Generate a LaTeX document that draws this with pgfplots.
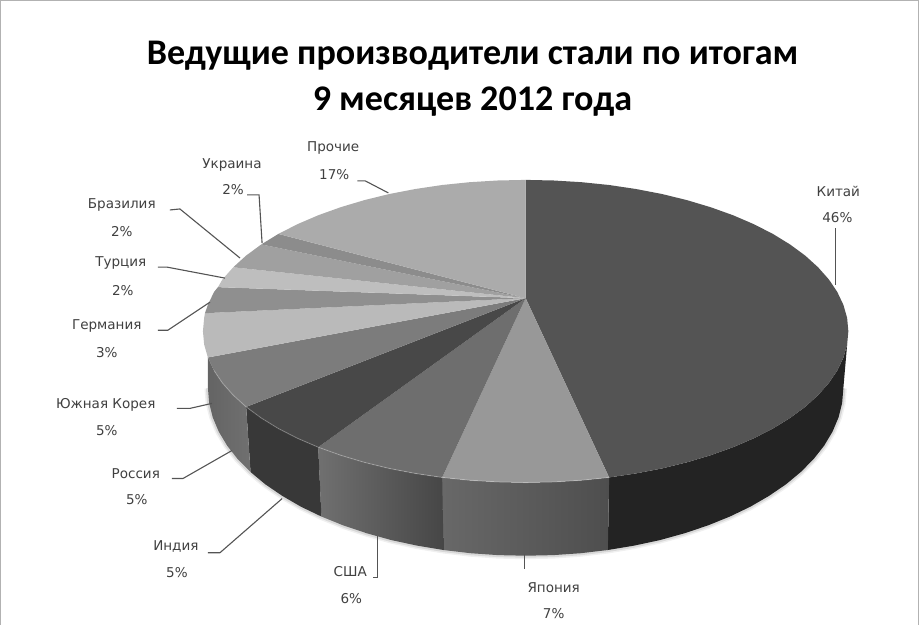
\documentclass[border=0pt]{standalone}
\usepackage{pgfplots}
\pgfplotsset{compat=1.18}
\usepackage{pgfplotstable}
\usepackage{fontspec}
\setmainfont{DejaVu Sans}
\newfontfamily\titlefont{Carlito}

% bottom rim of the pie, for the soft shadow
\pgfplotstableread{
x y
842 388
840.8 402.6
837.2 417
831.2 431.2
822.9 445.1
812.3 458.6
799.5 471.5
784.7 483.8
767.8 495.3
749.2 506.1
728.8 515.9
706.8 524.8
683.5 532.6
659 539.4
633.4 544.9
607 549.3
580 552.5
552.6 554.4
525 555
497.4 554.4
470 552.5
443 549.3
416.6 544.9
391 539.4
366.5 532.6
343.2 524.8
321.2 515.9
300.8 506.1
282.2 495.3
265.3 483.8
250.5 471.5
237.7 458.6
227.1 445.1
218.8 431.2
212.8 417
209.2 402.6
208 388
}\rimbottom

\definecolor{lblc}{gray}{0.25}
\definecolor{leadc}{gray}{0.33}

\begin{document}
\begin{tikzpicture}
\begin{axis}[
    scale only axis,
    width=919pt, height=624pt,
    xmin=0, xmax=919,
    ymin=0, ymax=624,
    y dir=reverse,
    hide axis,
    clip=false,
]
% frame
\addplot[draw=gray!60, line width=1pt] coordinates {(1,624) (1,1) (917,1) (917,624)};

% shadow
\addplot[draw=black, opacity=0.06, line width=7pt] table {\rimbottom};
\addplot[draw=black, opacity=0.10, line width=4pt] table {\rimbottom};

% sides, china
\addplot[fill={rgb,255:red,35;green,35;blue,35}, draw=none] coordinates {
(845.8,344.2) (842.1,357.2) (836,370.1) (827.6,382.6) (816.8,394.8) (803.9,406.5) (788.8,417.6) (771.7,428.1) (752.7,437.8) (732,446.7) (709.7,454.7) (686,461.8) (661.1,467.9) (635.1,472.9) (608.3,476.9)
(607,549.3) (633.4,544.9) (659,539.4) (683.5,532.6) (706.8,524.8) (728.8,515.9) (749.2,506.1) (767.8,495.3) (784.7,483.8) (799.5,471.5) (812.3,458.6) (822.9,445.1) (831.2,431.2) (837.2,417) (840.8,402.6) (842,388)};
% japan
\addplot[left color=gray!42!black, right color=gray!62!black, draw=none, shading angle=0, left color={rgb,255:red,104;green,104;blue,104}, right color={rgb,255:red,78;green,78;blue,78}] coordinates {
(608.3,476.9) (580.9,479.7) (553,481.4) (525,482) (497,481.4) (469.1,479.7) (441.7,476.9)
(443,549.3) (470,552.5) (497.4,554.4) (525,555) (552.6,554.4) (580,552.5) (607,549.3)};
% usa
\addplot[left color={rgb,255:red,112;green,112;blue,112}, right color={rgb,255:red,70;green,70;blue,70}, draw=none] coordinates {
(441.7,476.9) (414.9,472.9) (388.9,467.9) (364,461.8) (340.3,454.7) (318,446.7)
(321.2,515.9) (343.2,524.8) (366.5,532.6) (391,539.4) (416.6,544.9) (443,549.3)};
% india
\addplot[fill={rgb,255:red,56;green,56;blue,56}, draw=none] coordinates {
(318,446.7) (297.3,437.8) (278.3,428.1) (261.2,417.6) (246.1,406.5)
(250.5,471.5) (265.3,483.8) (282.2,495.3) (300.8,506.1) (321.2,515.9)};
% russia
\addplot[left color={rgb,255:red,100;green,100;blue,100}, right color={rgb,255:red,112;green,112;blue,112}, draw=none] coordinates {
(246.1,406.5) (233.2,394.8) (222.4,382.6) (214,370.1) (207.9,357.2)
(208,388) (209.2,402.6) (212.8,417) (218.8,431.2) (227.1,445.1) (237.7,458.6) (250.5,471.5)};

% top face, china
\addplot[fill={rgb,255:red,84;green,84;blue,84}, draw=none] coordinates {
(525,298) (525,180) (553,180.6) (580.9,182.3) (608.3,185.1) (635.1,189.1) (661.1,194.1) (686,200.2) (709.7,207.3) (732,215.3) (752.7,224.2) (771.7,233.9) (788.8,244.4) (803.9,255.5) (816.8,267.2) (827.6,279.4) (836,291.9) (842.1,304.8) (845.8,317.8) (847,331) (845.8,344.2) (842.1,357.2) (836,370.1) (827.6,382.6) (816.8,394.8) (803.9,406.5) (788.8,417.6) (771.7,428.1) (752.7,437.8) (732,446.7) (709.7,454.7) (686,461.8) (661.1,467.9) (635.1,472.9) (608.3,476.9)};
% japan
\addplot[fill={rgb,255:red,152;green,152;blue,152}, draw=none] coordinates {
(525,298) (608.3,476.9) (580.9,479.7) (553,481.4) (525,482) (497,481.4) (469.1,479.7) (441.7,476.9)};
% usa
\addplot[fill={rgb,255:red,110;green,110;blue,110}, draw=none] coordinates {
(525,298) (441.7,476.9) (414.9,472.9) (388.9,467.9) (364,461.8) (340.3,454.7) (318,446.7)};
% india
\addplot[fill={rgb,255:red,72;green,72;blue,72}, draw=none] coordinates {
(525,298) (318,446.7) (297.3,437.8) (278.3,428.1) (261.2,417.6) (246.1,406.5)};
% russia
\addplot[fill={rgb,255:red,124;green,124;blue,124}, draw=none] coordinates {
(525,298) (246.1,406.5) (233.2,394.8) (222.4,382.6) (214,370.1) (207.9,357.2)};
% south korea
\addplot[fill={rgb,255:red,186;green,186;blue,186}, draw=none] coordinates {
(525,298) (207.9,357.2) (204.2,344.2) (203,331) (204.2,317.8) (205,313)};
% germany
\addplot[fill={rgb,255:red,143;green,143;blue,143}, draw=none] coordinates {
(525,298) (205,313) (207.9,304.8) (214,291.9) (218,287)};
% turkey
\addplot[fill={rgb,255:red,190;green,190;blue,190}, draw=none] coordinates {
(525,298) (218,287) (222.4,279.4) (233.2,267.2)};
% brazil
\addplot[fill={rgb,255:red,160;green,160;blue,160}, draw=none] coordinates {
(525,298) (233.2,267.2) (246.1,255.5) (261.2,244.4)};
% ukraine
\addplot[fill={rgb,255:red,140;green,140;blue,140}, draw=none] coordinates {
(525,298) (261.2,244.4) (278.3,233.9)};
% others
\addplot[fill={rgb,255:red,171;green,171;blue,171}, draw=none] coordinates {
(525,298) (278.3,233.9) (297.3,224.2) (318,215.3) (340.3,207.3) (364,200.2) (388.9,194.1) (414.9,189.1) (441.7,185.1) (469.1,182.3) (497,180.6) (525,180)};

% light rim on the front edge
\addplot[draw=white, opacity=0.22, line width=1pt] coordinates {
(608.3,476.9) (580.9,479.7) (553,481.4) (525,482) (497,481.4) (469.1,479.7) (441.7,476.9) (414.9,472.9) (388.9,467.9) (364,461.8) (340.3,454.7) (318,446.7) (297.3,437.8) (278.3,428.1) (261.2,417.6) (246.1,406.5) (233.2,394.8) (222.4,382.6) (214,370.1)};

% leader lines
\addplot[draw=leadc, line width=1.1pt] coordinates {(357,181) (365,181) (388,193)};
\addplot[draw=leadc, line width=1.1pt] coordinates {(247,195) (259,195) (262,243)};
\addplot[draw=leadc, line width=1.1pt] coordinates {(170,210) (180,209) (240,258)};
\addplot[draw=leadc, line width=1.1pt] coordinates {(158,267) (167,267) (225,278)};
\addplot[draw=leadc, line width=1.1pt] coordinates {(158,330) (168,330) (210,302)};
\addplot[draw=leadc, line width=1.1pt] coordinates {(177,408) (190,408) (212,403)};
\addplot[draw=leadc, line width=1.1pt] coordinates {(172,478) (183,478) (232,450)};
\addplot[draw=leadc, line width=1.1pt] coordinates {(208,552) (220,552) (282,498)};
\addplot[draw=leadc, line width=1.1pt] coordinates {(373,577) (377,577) (377,535)};
\addplot[draw=leadc, line width=1.1pt] coordinates {(524,553) (524,568)};
\addplot[draw=leadc, line width=1.1pt] coordinates {(834,228) (834,285)};

% title
\node[font=\titlefont\bfseries\fontsize{36}{36}\selectfont, text=black] at (axis cs:472,56) {Ведущие производители стали по итогам};
\node[font=\titlefont\bfseries\fontsize{36}{36}\selectfont, text=black] at (axis cs:472,102) {9 месяцев 2012 года};

% labels
\tikzset{lbl/.style={font=\fontsize{13.5}{14}\selectfont, text=lblc, inner sep=0pt}}
\node[lbl] at (axis cs:333,148) {Прочие};
\node[lbl] at (axis cs:334,175) {17\%};
\node[lbl] at (axis cs:232,165) {Украина};
\node[lbl] at (axis cs:233,190) {2\%};
\node[lbl] at (axis cs:122,205) {Бразилия};
\node[lbl] at (axis cs:122,232) {2\%};
\node[lbl] at (axis cs:121,263) {Турция};
\node[lbl] at (axis cs:123,290) {2\%};
\node[lbl] at (axis cs:107,326) {Германия};
\node[lbl] at (axis cs:107,352) {3\%};
\node[lbl] at (axis cs:106,404) {Южная Корея};
\node[lbl] at (axis cs:107,430) {5\%};
\node[lbl] at (axis cs:136,473) {Россия};
\node[lbl] at (axis cs:137,499) {5\%};
\node[lbl] at (axis cs:176,546) {Индия};
\node[lbl] at (axis cs:177,572) {5\%};
\node[lbl] at (axis cs:350,571) {США};
\node[lbl] at (axis cs:351,598) {6\%};
\node[lbl] at (axis cs:553,587) {Япония};
\node[lbl] at (axis cs:553,613) {7\%};
\node[lbl] at (axis cs:837,192) {Китай};
\node[lbl] at (axis cs:836,218) {46\%};
\end{axis}
\end{tikzpicture}
\end{document}
